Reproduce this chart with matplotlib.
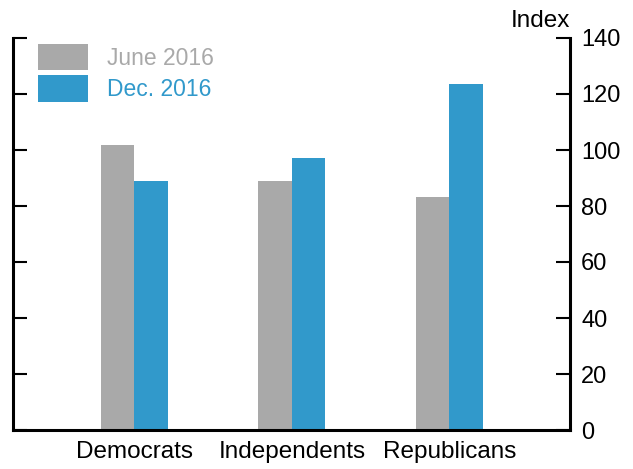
import matplotlib.pyplot as plt
import numpy as np

plt.rcParams['font.family'] = ['Liberation Sans', 'DejaVu Sans']

groups = ['Democrats', 'Independents', 'Republicans']
june_2016 = [101.8, 88.8, 83.3]
dec_2016 = [89.0, 97.3, 123.5]
yticks = [0, 20, 40, 60, 80, 100, 120, 140]

gray = '#a9a9a9'
blue = '#3199cb'

fig = plt.figure(figsize=(6.33, 4.69), dpi=100)
ax = fig.add_axes([13 / 633, 1 - 430 / 469, 557 / 633, 392 / 469])

x = np.arange(len(groups))
w = 0.213
ax.bar(x - w / 2, june_2016, w, color=gray, label='June 2016')
ax.bar(x + w / 2, dec_2016, w, color=blue, label='Dec. 2016')

ax.set_xlim(-0.77, 2.765)
ax.set_ylim(0, 140)
ax.set_xticks(x)
ax.set_xticklabels(groups, fontsize=17.5)
ax.tick_params(axis='x', length=0, pad=8)

ax.set_yticks(yticks)
ax.tick_params(axis='y', direction='in', length=10, width=1.5, labelsize=17,
               left=True, right=True, labelleft=False, labelright=True, pad=8)

for side in ['left', 'right', 'bottom']:
    ax.spines[side].set_linewidth(2.2)
ax.spines['top'].set_visible(False)

ax.text(1.0, 1.015, 'Index', transform=ax.transAxes, ha='right', va='bottom', fontsize=17.5)

leg = ax.legend(loc='upper left', bbox_to_anchor=(0.016, 1.025), frameon=False, fontsize=16.5,
                handlelength=2.2, handleheight=1.38, handletextpad=0.8, labelspacing=0.22,
                borderaxespad=0.3)
for txt, c in zip(leg.get_texts(), [gray, blue]):
    txt.set_color(c)

fig.savefig('out.png', dpi=100)
